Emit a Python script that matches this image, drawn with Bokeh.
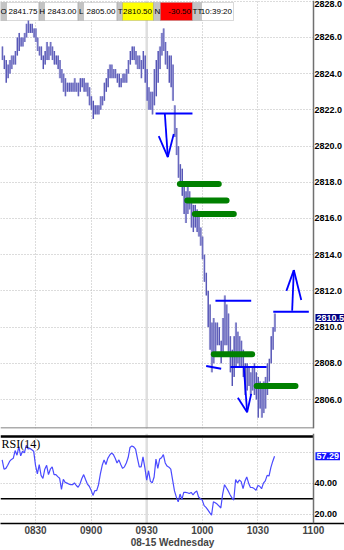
from bokeh.plotting import figure
from bokeh.layouts import column
from bokeh.models import (Range1d, FixedTicker, Grid, Span, Label, BoxAnnotation,
                          NumeralTickFormatter)
from bokeh.embed import file_html
from bokeh.resources import INLINE

# ---------------- data ----------------
first_bar_minute = -18          # minutes relative to 08:30 (first bar 08:12)
bar_high = [2825.5, 2825.0, 2824.75, 2824.5, 2824.75, 2825.0, 2825.0, 2825.25, 2826.0, 2826.25,
            2826.0, 2826.0, 2826.25, 2826.75, 2827.0, 2826.75, 2826.75, 2826.5, 2826.5, 2826.0,
            2825.5, 2825.5, 2825.0, 2825.25, 2825.75, 2825.5, 2825.75, 2825.5, 2825.25, 2825.0,
            2825.0, 2824.75, 2824.25, 2824.0, 2823.75, 2823.5, 2823.5, 2823.5, 2823.5, 2823.75,
            2823.5, 2823.5, 2823.75, 2823.75, 2823.75, 2823.5, 2823.5, 2823.25, 2822.75, 2822.5,
            2822.25, 2822.25, 2822.25, 2822.75, 2822.75, 2823.5, 2823.75, 2824.25, 2824.5, 2824.5,
            2824.25, 2824.25, 2824.0, 2824.0, 2823.75, 2824.0, 2824.0, 2824.25, 2824.75, 2825.25,
            2825.5, 2825.5, 2825.25, 2825.0, 2825.0, 2824.75, 2825.25, 2825.0, 2824.25, 2823.25,
            2823.0, 2823.0, 2824.25, 2824.75, 2825.25, 2825.5, 2826.25, 2826.5, 2825.75, 2825.25,
            2825.0, 2825.0, 2824.5, 2822.25, 2821.0, 2820.0, 2819.0, 2818.75, 2818.0, 2817.5,
            2817.75, 2817.5, 2817.0, 2816.75, 2816.75, 2816.5, 2816.25, 2815.5, 2815.0, 2814.0,
            2813.0, 2812.0, 2811.25, 2810.25, 2810.5, 2810.25, 2810.25, 2810.0, 2809.25, 2810.5,
            2811.75, 2811.25, 2810.75, 2809.5, 2808.75, 2809.5, 2810.25, 2809.75, 2809.5, 2809.25,
            2808.75, 2808.0, 2808.0, 2807.75, 2807.5, 2807.75, 2808.0, 2807.5, 2807.25, 2807.0,
            2806.75, 2807.0, 2807.25, 2808.0, 2808.25, 2809.5, 2810.0, 2810.75]
bar_low = [2824.75, 2824.25, 2823.5, 2823.75, 2824.0, 2824.25, 2824.5, 2824.5, 2825.0, 2825.25,
           2825.5, 2825.5, 2825.75, 2826.0, 2826.25, 2826.25, 2826.25, 2826.0, 2825.75, 2825.25,
           2825.0, 2824.75, 2824.25, 2824.5, 2824.75, 2824.75, 2825.0, 2824.75, 2824.5, 2824.5,
           2824.25, 2823.75, 2823.5, 2823.0, 2822.75, 2823.0, 2823.0, 2823.0, 2823.0, 2823.0,
           2823.0, 2822.75, 2823.0, 2823.25, 2823.0, 2823.0, 2822.75, 2822.25, 2822.0, 2821.5,
           2821.75, 2821.75, 2821.75, 2822.0, 2822.25, 2822.5, 2823.0, 2823.25, 2823.75, 2823.75,
           2823.75, 2823.75, 2823.5, 2823.25, 2823.25, 2823.5, 2823.5, 2823.5, 2824.0, 2824.5,
           2824.75, 2824.75, 2824.5, 2824.25, 2824.25, 2823.75, 2824.25, 2823.5, 2822.5, 2822.0,
           2822.0, 2821.75, 2822.25, 2822.75, 2823.5, 2824.25, 2825.0, 2825.25, 2824.5, 2824.25,
           2823.5, 2823.25, 2822.5, 2820.5, 2819.5, 2818.25, 2817.75, 2817.25, 2816.25, 2815.75,
           2816.25, 2816.5, 2815.5, 2815.25, 2815.5, 2815.25, 2815.0, 2814.5, 2813.75, 2812.5,
           2811.75, 2810.0, 2808.75, 2807.5, 2808.0, 2808.5, 2809.0, 2809.0, 2808.0, 2808.5,
           2809.0, 2809.0, 2808.5, 2807.5, 2806.75, 2807.25, 2807.75, 2808.0, 2807.75, 2807.75,
           2807.25, 2806.25, 2806.5, 2806.75, 2806.25, 2806.5, 2806.25, 2806.0, 2805.0, 2805.5,
           2805.0, 2805.25, 2805.5, 2806.25, 2807.0, 2808.0, 2808.75, 2809.75]
rsi = [55, 49, 49.5, 51.5, 54, 55.3, 56, 61, 58, 63.6,
       57.6, 60.6, 59.5, 64.4, 62, 62.4, 61.5, 60.6, 51.5, 46,
       52, 45, 43, 49, 51.5, 45.5, 49, 50.5, 45.5, 45.5,
       44.2, 43.2, 36, 42.5, 40.5, 40, 39.4, 39, 39, 40.2,
       38.5, 37.4, 39.5, 43, 45.5, 42.4, 39.4, 38, 35.5, 32.1,
       35.2, 35.2, 39, 46, 51.5, 55, 52, 56, 58, 59.4,
       58.5, 56, 53, 55, 52, 49.5, 50.5, 53, 56.5, 63,
       64, 63.4, 62, 56, 50.5, 50.5, 57, 50, 42, 48,
       41.2, 40.2, 44, 55.5, 49.5, 55.5, 56.4, 58.4, 53, 51,
       50.3, 49, 42, 35, 31, 28, 33, 29.5, 34.1, 34.1,
       33.8, 33.3, 34, 32.5, 34, 35, 31.1, 30, 29.1, 25.5,
       24.4, 22.8, 21, 19.4, 28, 27.4, 26.5, 25.3, 24, 33,
       39, 37, 35, 32.5, 30.5, 29.1, 42.4, 40.2, 42, 41,
       36.5, 41.2, 44, 40, 37.2, 37.2, 36.5, 35.4, 38.5, 38,
       36.4, 40, 41.5, 45, 44.6, 50, 54, 57.29]
bar_minute = [first_bar_minute + i for i in range(len(bar_high))]

# order levels (green) : start minute, end minute, price
green_t0 = [77.9, 81.9, 86.0, 96.2, 119.3]
green_t1 = [98.9, 103.1, 107.0, 116.9, 140.3]
green_price = [2817.9, 2817.0, 2816.25, 2808.5, 2806.75]

# blue horizontal marks
blue_t0 = [64.8, 97.1, 92.1, 105.2, 128.3]
blue_t1 = [84.7, 116.4, 100.2, 124.7, 147.5]
blue_p0 = [2821.8, 2811.45, 2807.85, 2807.8, 2810.85]
blue_p1 = [2821.8, 2811.45, 2807.7, 2807.8, 2810.85]

# blue arrows (shaft and two arms each)
arrow_t0 = [69.8, 66.5, 71.4, 112.4, 109.2, 114.2, 138.5, 135.4, 139.4]
arrow_p0 = [2821.77, 2820.55, 2819.39, 2807.82, 2806.1, 2805.3, 2810.9, 2812.0, 2813.15]
arrow_t1 = [71.4, 71.4, 74.6, 114.2, 114.2, 116.4, 139.4, 139.4, 143.4]
arrow_p1 = [2819.39, 2819.39, 2820.67, 2805.3, 2805.3, 2806.31, 2813.15, 2813.15, 2811.5]

time_ticks = [0, 30, 60, 90, 120, 150]
time_labels = ["0830", "0900", "0930", "1000", "1030", "1100"]
price_ticks = [2806, 2808, 2810, 2812, 2814, 2816, 2818, 2820, 2822, 2824, 2826, 2828]
rsi_grid_ticks = [20, 40, 60]
rsi_label_ticks = [20, 40]          # the 60.00 label sits under the 57.29 marker
rsi_levels = [30, 70]
session_open = 60
axis_minute = 150

header_keys = ["O", "H", "L", "T", "N", "TT"]
header_vals = ["2841.75", "2843.00", "2805.00", "2810.50", "-30.50", "10:39:20"]
last_price = 2810.5
last_rsi = 57.29
date_label = "08-15 Wednesday"

# ---------------- layout helpers ----------------
X0, X1 = -18.9, 166.75
Y0, Y1 = 2804.4, 2828.04
FRAME_W, FRAME_H = 344, 428
def px_t(px):
    return X0 + px * (X1 - X0) / FRAME_W
def py_p(py):
    return Y1 - py * (Y1 - Y0) / FRAME_H

GRID_COLOR = "#b8b8b8"
FONT = "Liberation Sans"
VAL_FONT_SIZE = "9px"

def style_value_axis(a, ticks, fmt):
    a.ticker = FixedTicker(ticks=ticks)
    a.formatter = NumeralTickFormatter(format=fmt)
    a.fixed_location = axis_minute
    a.major_tick_out = 0
    a.major_tick_in = 0
    a.minor_tick_line_color = None
    a.major_label_standoff = 1
    a.axis_line_color = "#707070"
    a.axis_line_width = 1.5
    a.major_label_text_font = FONT
    a.major_label_text_font_size = VAL_FONT_SIZE
    a.major_label_text_font_style = "bold"
    a.major_label_text_color = "black"

p = figure(width=344, height=430, x_range=Range1d(X0, X1), y_range=Range1d(Y0, Y1),
           output_backend="svg", toolbar_location=None, x_axis_location=None,
           y_axis_location="right", min_border_left=0, min_border_top=0,
           min_border_bottom=2, min_border_right=0)
p.background_fill_color = "white"
p.border_fill_color = "white"
p.outline_line_color = None
p.xgrid.visible = False
p.ygrid.ticker = FixedTicker(ticks=price_ticks)
p.ygrid.grid_line_color = GRID_COLOR
p.ygrid.grid_line_dash = "1 2"
p.add_layout(Grid(dimension=0, ticker=FixedTicker(ticks=time_ticks),
                  grid_line_color=GRID_COLOR, grid_line_dash="1 2"))
p.add_layout(Span(location=session_open, dimension="height", line_color="#dedede",
                  line_width=2.5, level="underlay"))
p.add_layout(BoxAnnotation(left=axis_minute, right=X1, fill_color="white", fill_alpha=1,
                           line_color=None, level="underlay"))
style_value_axis(p.yaxis[0], price_ticks, "0.0")

# bottom border of price pane
p.segment(x0=[X0], y0=[Y0 + 0.03], x1=[axis_minute], y1=[Y0 + 0.03],
          line_color="#909090", line_width=1.5)

# bars
p.vbar(x=bar_minute, bottom=bar_low, top=bar_high, width=0.85,
       fill_color="#a6a6da", line_color=None)
p.segment(x0=[m + 0.3 for m in bar_minute], y0=bar_low,
          x1=[m + 0.3 for m in bar_minute], y1=bar_high,
          line_color="#5252b4", line_width=1)

# green order levels
p.segment(x0=green_t0, y0=green_price, x1=green_t1, y1=green_price,
          line_color="#008000", line_width=6, line_cap="round")
# blue marks
p.segment(x0=blue_t0, y0=blue_p0, x1=blue_t1, y1=blue_p1,
          line_color="#0000ff", line_width=2)
p.segment(x0=arrow_t0, y0=arrow_p0, x1=arrow_t1, y1=arrow_p1,
          line_color="#0000ff", line_width=1.8)

# header strip
GRAY = "#c4c4c4"
cells = [(-1, 6, GRAY), (6, 38.5, "white"), (38.5, 44, GRAY), (44, 77.5, "white"),
         (77.5, 83, GRAY), (83, 116.5, "white"), (116.5, 122, GRAY), (122, 153, "#ffff00"),
         (153, 160, GRAY), (160, 192, "#ff0000"), (192, 201, GRAY), (201, 233, "white")]
for (a, b, c) in cells:
    p.add_layout(BoxAnnotation(left=px_t(a), right=px_t(b), top=py_p(2), bottom=py_p(20),
                               fill_color=c, fill_alpha=1, line_color="#808080", line_width=1))
for k in range(6):
    ka, kb, _ = cells[2 * k]
    va, vb, _ = cells[2 * k + 1]
    p.add_layout(Label(x=px_t((ka + kb) / 2 + 0.5), y=py_p(11), text=header_keys[k],
                       text_font=FONT, text_font_size="8px",
                       text_align="center", text_baseline="middle", text_color="black"))
    p.add_layout(Label(x=px_t(vb - 1.5), y=py_p(11), text=header_vals[k],
                       text_font=FONT, text_font_size="8px",
                       text_align="right", text_baseline="middle", text_color="black"))

p.add_layout(Label(x=axis_minute, y=last_price, x_offset=2, text="%.1f" % last_price,
                   text_font=FONT, text_font_size=VAL_FONT_SIZE, text_font_style="bold",
                   text_color="white", background_fill_color="#000080", background_fill_alpha=1.0,
                   padding=1, text_align="left", text_baseline="middle", level="overlay"))

# ---------------- RSI panel ----------------
r = figure(width=344, height=120, x_range=p.x_range, y_range=Range1d(14, 72),
           output_backend="svg", toolbar_location=None, y_axis_location="right",
           min_border_left=0, min_border_top=3, min_border_right=0, min_border_bottom=0)
r.background_fill_color = "white"
r.border_fill_color = "white"
r.outline_line_color = None
r.xgrid.ticker = FixedTicker(ticks=time_ticks)
r.xgrid.grid_line_color = GRID_COLOR
r.xgrid.grid_line_dash = "1 2"
r.ygrid.ticker = FixedTicker(ticks=rsi_grid_ticks)
r.ygrid.grid_line_color = GRID_COLOR
r.ygrid.grid_line_dash = "1 2"
r.add_layout(Span(location=session_open, dimension="height", line_color="#dedede",
                  line_width=2.5, level="underlay"))
r.add_layout(BoxAnnotation(left=axis_minute, right=X1, fill_color="white", fill_alpha=1,
                           line_color=None, level="underlay"))
r.segment(x0=[X0] * len(rsi_levels), y0=rsi_levels, x1=[axis_minute] * len(rsi_levels),
          y1=rsi_levels, line_color="black", line_width=[1.5, 2.5])

r.line(bar_minute, rsi, line_color="#4a4aff", line_width=1.2)

xa = r.xaxis[0]
xa.ticker = FixedTicker(ticks=time_ticks)
xa.major_label_overrides = {t: s for t, s in zip(time_ticks, time_labels)}
xa.major_tick_out = 0
xa.major_tick_in = 0
xa.minor_tick_line_color = None
xa.major_label_standoff = 2
xa.axis_line_color = "black"
xa.axis_line_width = 1.5
xa.major_label_text_font = FONT
xa.major_label_text_font_size = "10px"
xa.major_label_text_font_style = "bold"
xa.axis_label = date_label
xa.axis_label_standoff = 0
xa.axis_label_text_font = FONT
xa.axis_label_text_font_size = "10px"
xa.axis_label_text_font_style = "bold"

style_value_axis(r.yaxis[0], rsi_label_ticks, "0.00")

r.add_layout(Label(x=X0, y=72, x_offset=1, y_offset=-3, text="RSI(14)",
                   text_font="Liberation Serif", text_font_size="12px",
                   text_align="left", text_baseline="top", text_color="black"))
r.add_layout(Label(x=axis_minute, y=last_rsi, x_offset=2, text="%.2f" % last_rsi,
                   text_font=FONT, text_font_size=VAL_FONT_SIZE, text_font_style="bold",
                   text_color="white", background_fill_color="#1010ff", background_fill_alpha=1.0,
                   padding=1, text_align="left", text_baseline="middle", level="overlay"))

layout = column(p, r)
open("out.html", "w").write(file_html(layout, INLINE))
